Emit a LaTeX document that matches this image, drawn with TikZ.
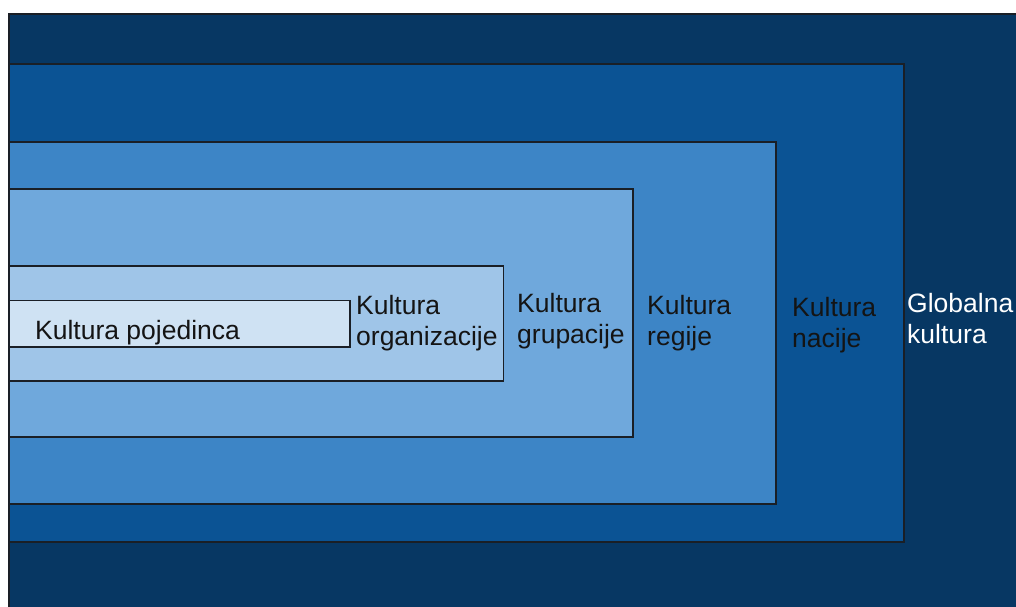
\documentclass[tikz,border=0pt]{standalone}
\usepackage{fontspec}
\setmainfont{Liberation Sans}
\definecolor{cglob}{HTML}{073763}
\definecolor{cnac}{HTML}{0B5394}
\definecolor{creg}{HTML}{3D85C6}
\definecolor{cgrp}{HTML}{6FA8DC}
\definecolor{corg}{HTML}{9FC5E8}
\definecolor{cpoj}{HTML}{CFE2F3}
\definecolor{edge}{HTML}{1A1F26}
\definecolor{ink}{HTML}{141414}
\tikzset{
  layer/.style={draw=edge, line width=1.7pt},
  lbl/.style={inner sep=0pt, anchor=base west, align=left, font=\fontsize{26.5}{31}\selectfont},
}
\begin{document}
\begin{tikzpicture}[x=1pt,y=-1pt]
\useasboundingbox (0,0) rectangle (1016,606);
\clip (0,0) rectangle (1016,606);
\draw[layer, fill=cglob] (8.7,13.8) rectangle (1040,640);
\draw[layer, fill=cnac] (8.7,64) rectangle (904,542);
\draw[layer, fill=creg] (8.7,142) rectangle (776,504);
\draw[layer, fill=cgrp] (8.7,189) rectangle (633,437);
\draw[layer, fill=corg] (8.7,266) rectangle (503.5,381);
\draw[layer, fill=cpoj] (8.7,300.5) rectangle (350,347);
\node[lbl, text=ink] (poj) at (35,339) {Kultura pojedinca};
\node[lbl, text=ink] (org) at (356,345.5) {Kultura\\organizacije};
\node[lbl, text=ink] (grp) at (517,343) {Kultura\\grupacije};
\node[lbl, text=ink] (reg) at (647,345.5) {Kultura\\regije};
\node[lbl, text=ink] (nac) at (792,347) {Kultura\\nacije};
\node[lbl, text=white] (glob) at (907,343) {Globalna\\kultura};
\end{tikzpicture}
\end{document}
